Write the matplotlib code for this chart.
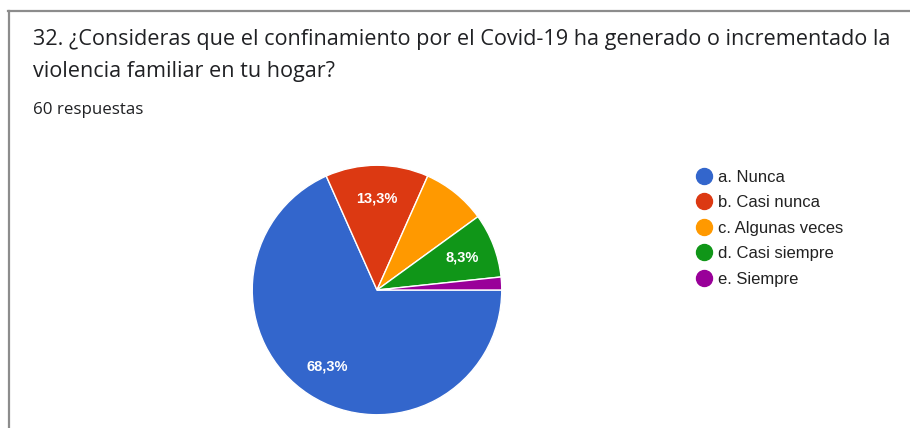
import matplotlib.pyplot as plt
from matplotlib.lines import Line2D

labels = ["a. Nunca", "b. Casi nunca", "c. Algunas veces", "d. Casi siempre", "e. Siempre"]
counts = [41, 8, 5, 5, 1]
colors = ["#3366cc", "#dc3912", "#ff9900", "#109618", "#990099"]
shown = [True, True, False, True, False]

title_lines = ["32. ¿Consideras que el confinamiento por el Covid-19 ha generado o incrementado la",
               "violencia familiar en tu hogar?"]
subtitle = "60 respuestas"

W, H = 910, 428
fig = plt.figure(figsize=(W / 100, H / 100), dpi=100)

# card border (left and top edges only are visible)
fig.add_artist(Line2D([8.5 / W, 8.5 / W], [0, 1 - 10.5 / H], color="#8c8c8c", lw=1.6))
fig.add_artist(Line2D([8 / W, 1], [1 - 10.5 / H, 1 - 10.5 / H], color="#8c8c8c", lw=1.6))

for line, base in zip(title_lines, [45, 77]):
    fig.text(33 / W, 1 - base / H, line, fontsize=15.6, family="Open Sans", color="#202124",
             va="baseline")
fig.text(33 / W, 1 - 114 / H, subtitle, fontsize=12.2, family="Open Sans", color="#202124",
         va="baseline")

cx, cy, r = 377, 290, 126
ax = fig.add_axes([(cx - r) / W, (H - cy - r) / H, 2 * r / W, 2 * r / H])


def fmt(p):
    return f"{p:.1f}%".replace(".", ",")


wedges, texts, autotexts = ax.pie(counts, colors=colors, startangle=0, counterclock=False,
                                  autopct=fmt, pctdistance=0.73,
                                  wedgeprops=dict(edgecolor="white", linewidth=1.0),
                                  textprops=dict(color="white", fontsize=10.5, fontweight="bold",
                                                 family="Liberation Sans"))
for t, s in zip(autotexts, shown):
    t.set_visible(s)
ax.set_xlim(-1.01, 1.01)
ax.set_ylim(-1.01, 1.01)
ax.set_aspect("equal")

handles = [Line2D([], [], marker="o", ls="", markersize=11.5, markerfacecolor=c, markeredgecolor=c)
           for c in colors]
fig.legend(handles, labels, loc="upper left", bbox_to_anchor=(686 / W, 1 - 163 / H),
           frameon=False, prop=dict(family="Liberation Sans", size=12),
           labelspacing=0.63, handletextpad=0.12, handlelength=1.4, borderaxespad=0,
           labelcolor="#222222")

fig.savefig("out.png", dpi=100)
